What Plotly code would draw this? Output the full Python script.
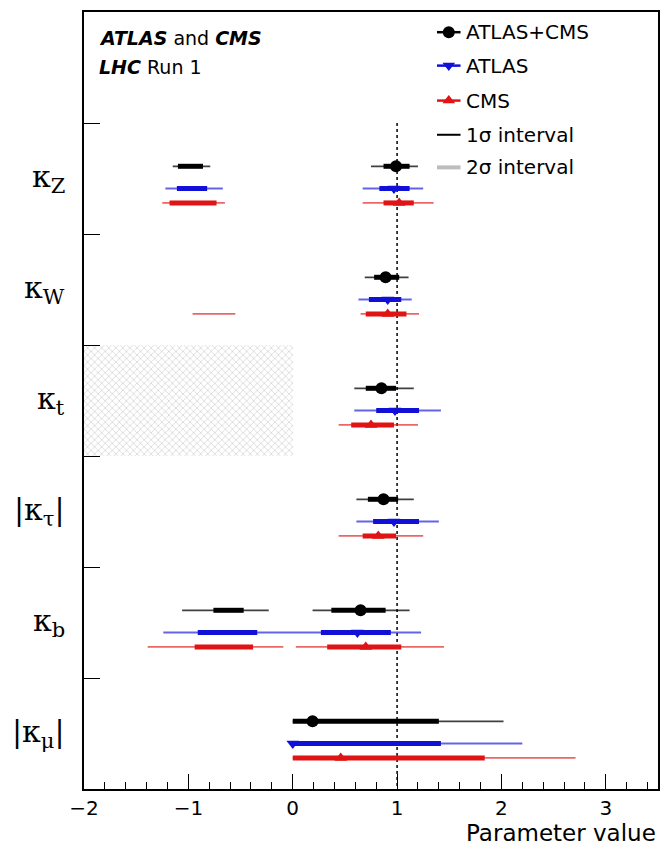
import plotly.graph_objects as go

# Coupling modifiers, top to bottom
params = ["κ<sub>Z</sub>", "κ<sub>W</sub>", "κ<sub>t</sub>", "|κ<sub>τ</sub>|", "κ<sub>b</sub>", "|κ<sub>μ</sub>|"]

# Best-fit values
comb_best = [0.99, 0.89, 0.85, 0.87, 0.65, 0.19]
atlas_best = [0.97, 0.91, 0.98, 0.97, 0.62, 0.00]
cms_best = [1.02, 0.91, 0.75, 0.82, 0.70, 0.46]

# 1 sigma intervals (may be split into disjoint pieces)
comb_1s = [[(-1.10, -0.86), (0.87, 1.12)], [(0.78, 1.02)], [(0.70, 0.99)], [(0.72, 1.01)],
           [(-0.76, -0.47), (0.37, 0.89)], [(0.0, 1.40)]]
atlas_1s = [[(-1.11, -0.82), (0.83, 1.12)], [(0.73, 1.04)], [(0.80, 1.21)], [(0.77, 1.21)],
            [(-0.91, -0.34), (0.27, 0.94)], [(0.0, 1.42)]]
cms_1s = [[(-1.18, -0.73), (0.87, 1.16)], [(0.70, 1.09)], [(0.56, 0.97)], [(0.67, 0.99)],
          [(-0.94, -0.38), (0.33, 1.04)], [(0.0, 1.84)]]

# 2 sigma intervals
comb_2s = [[(-1.15, -0.79), (0.75, 1.20)], [(0.69, 1.11)], [(0.59, 1.16)], [(0.61, 1.16)],
           [(-1.06, -0.23), (0.19, 1.12)], [(0.0, 2.02)]]
atlas_2s = [[(-1.22, -0.67), (0.67, 1.25)], [(0.63, 1.14)], [(0.59, 1.42)], [(0.61, 1.40)],
            [(-1.24, 1.23)], [(0.0, 2.20)]]
cms_2s = [[(-1.25, -0.65), (0.67, 1.35)], [(-0.96, -0.55), (0.65, 1.21)], [(0.44, 1.20)], [(0.44, 1.25)],
          [(-1.39, -0.09), (0.03, 1.45)], [(0.0, 2.71)]]

# Region of kappa_t excluded by assumption
kt_excluded = (-2.0, 0.0)
sm_value = 1.0

x_range = [-2.0, 3.5]
x_ticks = [-2, -1, 0, 1, 2, 3]

series = [
    dict(name="ATLAS+CMS", best=comb_best, s1=comb_1s, s2=comb_2s, color="#000000",
         light="rgba(0,0,0,0.75)", symbol="circle", size=12, offset=0.39),
    dict(name="ATLAS", best=atlas_best, s1=atlas_1s, s2=atlas_2s, color="#1010d8",
         light="rgba(16,16,216,0.65)", symbol="triangle-down", size=11, offset=0.59),
    dict(name="CMS", best=cms_best, s1=cms_1s, s2=cms_2s, color="#e01414",
         light="rgba(224,20,20,0.65)", symbol="triangle-up", size=11, offset=0.72),
]

FONT = "DejaVu Sans, Liberation Sans, Arial, sans-serif"

fig = go.Figure()

# Hatched excluded band for kappa_t
kt_row = params.index("κ<sub>t</sub>")
fig.add_trace(go.Bar(
    y=[kt_row + 0.5], x=[kt_excluded[1] - kt_excluded[0]], base=[kt_excluded[0]],
    width=[1.0], orientation="h",
    marker=dict(color="white", line=dict(width=0),
                pattern=dict(shape="x", fgcolor="#b4b4b4", bgcolor="white", size=5, solidity=0.3)),
    showlegend=False, hoverinfo="skip",
))


def segments(intervals, offset):
    xs, ys = [], []
    for i, pieces in enumerate(intervals):
        for lo, hi in pieces:
            xs += [lo, hi, None]
            ys += [i + offset, i + offset, None]
    return xs, ys


for s in series:
    xs, ys = segments(s["s2"], s["offset"])
    fig.add_trace(go.Scatter(x=xs, y=ys, mode="lines",
                             line=dict(color=s["light"], width=1.8),
                             showlegend=False, hoverinfo="skip"))
    xs, ys = segments(s["s1"], s["offset"])
    fig.add_trace(go.Scatter(x=xs, y=ys, mode="lines",
                             line=dict(color=s["color"], width=5),
                             showlegend=False, hoverinfo="skip"))
    fig.add_trace(go.Scatter(x=s["best"], y=[i + s["offset"] for i in range(len(params))],
                             mode="markers",
                             marker=dict(color=s["color"], symbol=s["symbol"], size=s["size"]),
                             showlegend=False, name=s["name"]))

# Legend keys drawn on an overlay axis spanning the plot area (0..1)
leg_x0, leg_x1, leg_text = 0.615, 0.656, 0.662
leg_rows = [0.974, 0.931, 0.886, 0.842, 0.800]
for s, yr in zip(series, leg_rows[:3]):
    fig.add_trace(go.Scatter(x=[leg_x0, leg_x1], y=[yr, yr], mode="lines",
                             line=dict(color=s["color"], width=2.5),
                             xaxis="x2", yaxis="y2", showlegend=False, hoverinfo="skip"))
    fig.add_trace(go.Scatter(x=[(leg_x0 + leg_x1) / 2], y=[yr], mode="markers",
                             marker=dict(color=s["color"], symbol=s["symbol"], size=s["size"]),
                             xaxis="x2", yaxis="y2", showlegend=False, hoverinfo="skip"))
fig.add_trace(go.Scatter(x=[leg_x0, leg_x1], y=[leg_rows[3]] * 2, mode="lines",
                         line=dict(color="black", width=2),
                         xaxis="x2", yaxis="y2", showlegend=False, hoverinfo="skip"))
fig.add_trace(go.Scatter(x=[leg_x0, leg_x1], y=[leg_rows[4]] * 2, mode="lines",
                         line=dict(color="#bdbdbd", width=4),
                         xaxis="x2", yaxis="y2", showlegend=False, hoverinfo="skip"))

legend_labels = ["ATLAS+CMS", "ATLAS", "CMS", "1σ interval", "2σ interval"]
annotations = []
for lab, yr in zip(legend_labels, leg_rows):
    annotations.append(dict(x=leg_text, y=yr, xref="paper", yref="paper", text=lab,
                            showarrow=False, xanchor="left", yanchor="middle",
                            font=dict(family=FONT, size=20, color="black")))

annotations.append(dict(x=0.023, y=0.967, xref="paper", yref="paper",
                        text="<b><i>ATLAS</i></b> and <b><i>CMS</i></b>", showarrow=False,
                        xanchor="left", yanchor="middle", font=dict(family=FONT, size=19, color="black")))
annotations.append(dict(x=0.023, y=0.929, xref="paper", yref="paper",
                        text="<b><i>LHC</i></b> Run 1", showarrow=False,
                        xanchor="left", yanchor="middle", font=dict(family=FONT, size=19, color="black")))

for i, p in enumerate(params):
    annotations.append(dict(x=-0.03, y=i + 0.5, xref="paper", yref="y", text=p,
                            showarrow=False, xanchor="right", yanchor="middle",
                            font=dict(family="DejaVu Serif, serif", size=30, color="black")))

annotations.append(dict(x=1.0, y=0, xref="paper", yref="paper", text="Parameter value",
                        showarrow=False, xanchor="right", yanchor="middle", yshift=-44,
                        font=dict(family=FONT, size=23, color="black")))

fig.update_layout(
    width=670, height=849,
    margin=dict(l=84, r=10, t=11, b=60),
    paper_bgcolor="white", plot_bgcolor="white",
    showlegend=False, bargap=0,
    font=dict(family=FONT, color="black"),
    annotations=annotations,
    shapes=[dict(type="line", xref="x", yref="y", x0=sm_value, x1=sm_value, y0=0, y1=len(params),
                 line=dict(color="black", width=1.5, dash="dot"), layer="below")],
    xaxis=dict(range=x_range, tickvals=x_ticks, ticks="inside", ticklen=15, tickwidth=1.2,
               tickcolor="black", showline=True, linecolor="black", linewidth=1.5, mirror=True,
               showgrid=False, zeroline=False, tickfont=dict(family=FONT, size=20, color="black"),
               minor=dict(dtick=0.2, tick0=0, ticks="inside", ticklen=7, tickcolor="black", tickwidth=1)),
    yaxis=dict(range=[len(params), -1], tickvals=list(range(len(params))), ticks="inside", ticklen=16,
               tickwidth=1.2, tickcolor="black", showticklabels=False, showline=True,
               linecolor="black", linewidth=1.5, mirror=True, showgrid=False, zeroline=False),
    xaxis2=dict(range=[0, 1], overlaying="x", visible=False, domain=[0, 1]),
    yaxis2=dict(range=[0, 1], overlaying="y", visible=False, domain=[0, 1]),
)

fig.write_html("out.html")
